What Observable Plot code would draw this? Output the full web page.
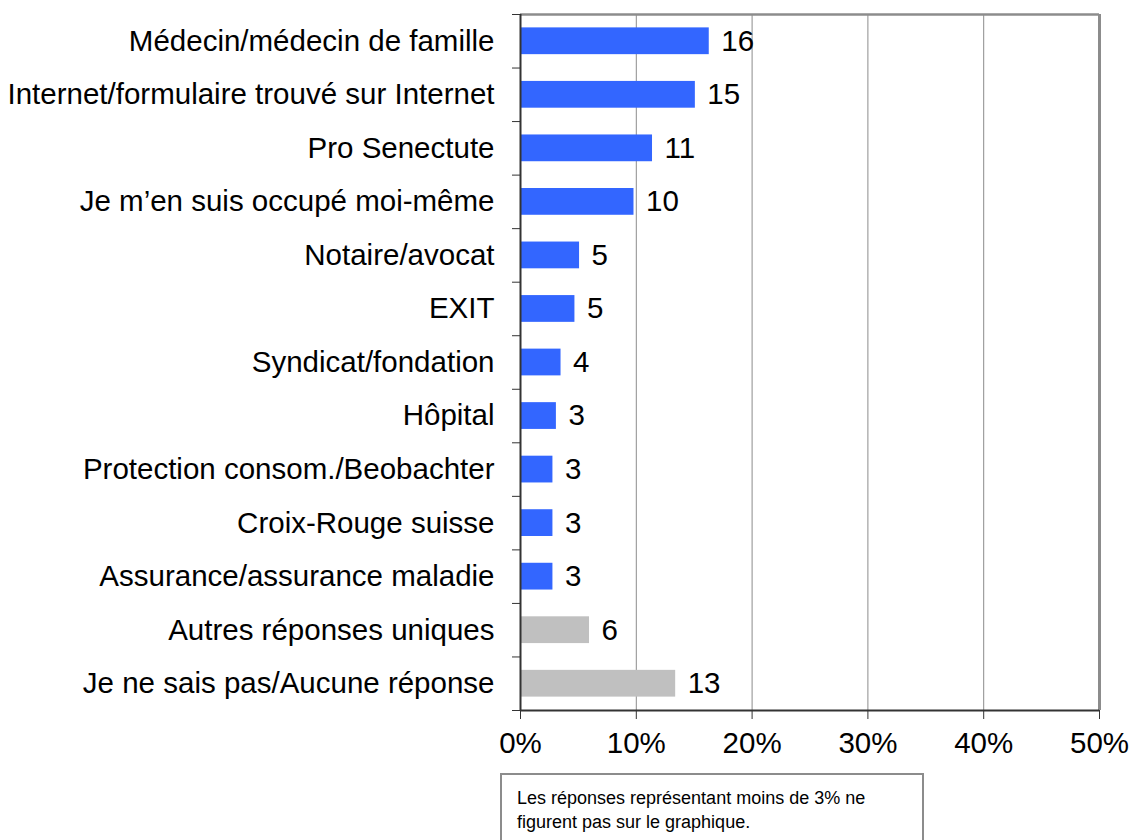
<!DOCTYPE html>
<html>
<head>
<meta charset="utf-8">
<script src="https://cdn.jsdelivr.net/npm/d3@7"></script>
<script src="https://cdn.jsdelivr.net/npm/@observablehq/plot@0.6"></script>
<style>
  html, body { margin: 0; padding: 0; background: #fff; overflow: hidden; }
  #wrap { position: relative; width: 1130px; height: 840px; font-family: "Liberation Sans", Arial, sans-serif; }
  #note { position: absolute; left: 500px; top: 773px; width: 424px; height: 90px; box-sizing: border-box;
          border: 2px solid #8c8c8c; padding: 11px 0 0 15px; font-size: 18px; line-height: 24px; color: #000; }
</style>
</head>
<body>
<div id="wrap"><div id="chart"></div><div id="note">Les réponses représentant moins de 3% ne<br>figurent pas sur le graphique.</div></div>
<script>
const categories = [
  "Médecin/médecin de famille",
  "Internet/formulaire trouvé sur Internet",
  "Pro Senectute",
  "Je m’en suis occupé moi-même",
  "Notaire/avocat",
  "EXIT",
  "Syndicat/fondation",
  "Hôpital",
  "Protection consom./Beobachter",
  "Croix-Rouge suisse",
  "Assurance/assurance maladie",
  "Autres réponses uniques",
  "Je ne sais pas/Aucune réponse"
];
const values = [16.3, 15.1, 11.4, 9.8, 5.1, 4.7, 3.5, 3.1, 2.8, 2.8, 2.8, 5.96, 13.4];
const labels = [16, 15, 11, 10, 5, 5, 4, 3, 3, 3, 3, 6, 13];
const groups = ["main","main","main","main","main","main","main","main","main","main","main","other","other"];
const xTicks = [0, 10, 20, 30, 40, 50];

const data = categories.map((c, i) => ({cat: c, i, value: values[i], label: labels[i], group: groups[i]}));
const font = "Liberation Sans, Arial, sans-serif";
const fs = 29.5;

const chart = Plot.plot({
  width: 1130,
  height: 770,
  marginLeft: 520,
  marginRight: 31,
  marginTop: 14,
  marginBottom: 60,
  style: {fontFamily: font, fontSize: fs + "px", color: "#000", background: "#fff"},
  x: {domain: [0, 50], label: null},
  y: {domain: [0, categories.length], reverse: true, label: null},
  color: {domain: ["main", "other"], range: ["#3366FF", "#C0C0C0"]},
  marks: [
    Plot.ruleX([10, 20, 30, 40], {y1: 0, y2: categories.length, stroke: "#8c8c8c", strokeWidth: 1}),
    Plot.ruleY([0], {x1: 0, x2: 50, stroke: "#8c8c8c", strokeWidth: 2.5}),
    Plot.ruleX([50], {y1: 0, y2: categories.length, stroke: "#8c8c8c", strokeWidth: 3}),
    Plot.rectX(data, {x1: 0, x2: "value", y1: d => d.i + 0.25, y2: d => d.i + 0.75, fill: "group"}),
    Plot.text(data, {x: "value", y: d => d.i + 0.5, text: "label", textAnchor: "start", dx: 12, fontSize: fs, fill: "#000"}),
    Plot.ruleX([0], {y1: 0, y2: categories.length, stroke: "#333", strokeWidth: 2}),
    Plot.ruleY([categories.length], {x1: 0, x2: 50, stroke: "#333", strokeWidth: 2}),
    Plot.axisY(d3.range(0, categories.length + 1), {tickSize: 8, tickFormat: () => "", stroke: "#333", label: null}),
    Plot.axisY(d3.range(0, categories.length).map(i => i + 0.5), {tickSize: 0, tickPadding: 26, tickFormat: d => categories[Math.floor(d)], fontSize: fs, fill: "#000", label: null}),
    Plot.axisX(xTicks, {anchor: "bottom", tickSize: 9, tickPadding: 13, tickFormat: d => d + "%", fontSize: fs, fill: "#000", stroke: "#333", label: null})
  ]
});
document.getElementById("chart").appendChild(chart);
</script>
</body>
</html>
